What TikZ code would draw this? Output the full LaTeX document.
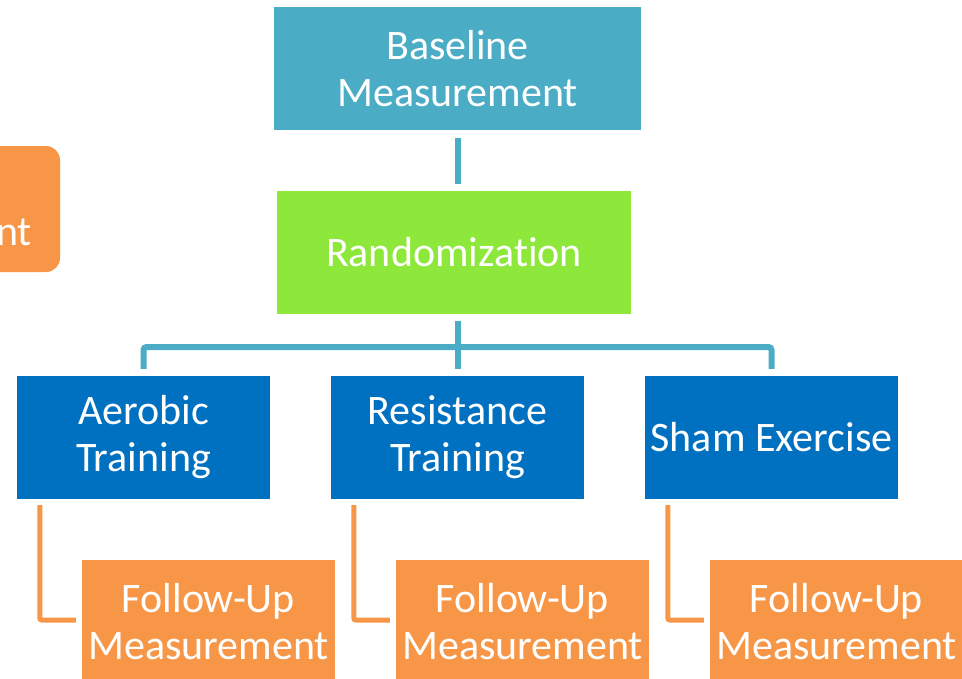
\documentclass[tikz,border=0pt]{standalone}
\usepackage{fontspec}
\setmainfont{Carlito}[Ligatures={NoCommon,NoContextual,NoRare}]
\definecolor{teal1}{HTML}{4BACC6}
\definecolor{lime1}{HTML}{8EE83B}
\definecolor{blue1}{HTML}{0070C0}
\definecolor{orange1}{HTML}{F79646}
\begin{document}
\begin{tikzpicture}[x=1pt,y=-1pt,
  boxbase/.style={rectangle, inner sep=0pt, align=center, text=white,
    font=\fontsize{42}{47}\selectfont},
  topbox/.style={boxbase, fill=teal1, minimum width=367pt, minimum height=123pt},
  randbox/.style={boxbase, fill=lime1, minimum width=354pt, minimum height=123pt},
  armbox/.style={boxbase, fill=blue1, minimum width=253pt, minimum height=123pt},
  fubox/.style={boxbase, fill=orange1, minimum width=253pt, minimum height=123pt},
  tealline/.style={draw=teal1, line width=6pt},
  orangeline/.style={draw=orange1, line width=5pt}]
\useasboundingbox (0,0) rectangle (962,678);
\clip (0,0) rectangle (962,678);

% partly visible box on the far left
\node[boxbase, fill=orange1, rounded corners=14pt, minimum width=360pt,
      minimum height=126pt] (prev) at (-120,209) {};
\node[anchor=base east, text=white, inner sep=0pt,
      font=\fontsize{42}{47}\selectfont] (prevtext) at (32,245) {nt};

% main flow
\node[topbox] (base) at (457.5,68.5) {Baseline\\Measurement};
\node[randbox] (rand) at (454,252.5) {Randomization};
\node[armbox] (aer) at (143.5,437.5) {Aerobic\\Training};
\node[armbox] (res) at (457.5,437.5) {Resistance\\Training};
\node[armbox] (sham) at (771.5,437.5) {Sham Exercise};
\node[fubox] (fu1) at (208.5,621.5) {Follow-Up\\Measurement};
\node[fubox] (fu2) at (522.5,621.5) {Follow-Up\\Measurement};
\node[fubox] (fu3) at (836.5,621.5) {Follow-Up\\Measurement};

% teal connectors
\coordinate (hub) at (458,347);
\draw[tealline] ([yshift=-8pt]base.south -| hub) -- ([yshift=7pt]rand.north -| hub);
\draw[tealline] ([yshift=-7pt]rand.south -| hub) -- ([yshift=7pt]res.north -| hub);
\draw[tealline, rounded corners=3pt]
  ([yshift=7pt]aer.north) |- (hub) -| ([yshift=7pt]sham.north);

% orange connectors
\draw[orangeline, rounded corners=2pt]
  ([xshift=23pt,yshift=-6pt]aer.south west) |- ([xshift=-6pt,yshift=1.5pt]fu1.west);
\draw[orangeline, rounded corners=2pt]
  ([xshift=23pt,yshift=-6pt]res.south west) |- ([xshift=-6pt,yshift=1.5pt]fu2.west);
\draw[orangeline, rounded corners=2pt]
  ([xshift=23pt,yshift=-6pt]sham.south west) |- ([xshift=-6pt,yshift=1.5pt]fu3.west);
\end{tikzpicture}
\end{document}
